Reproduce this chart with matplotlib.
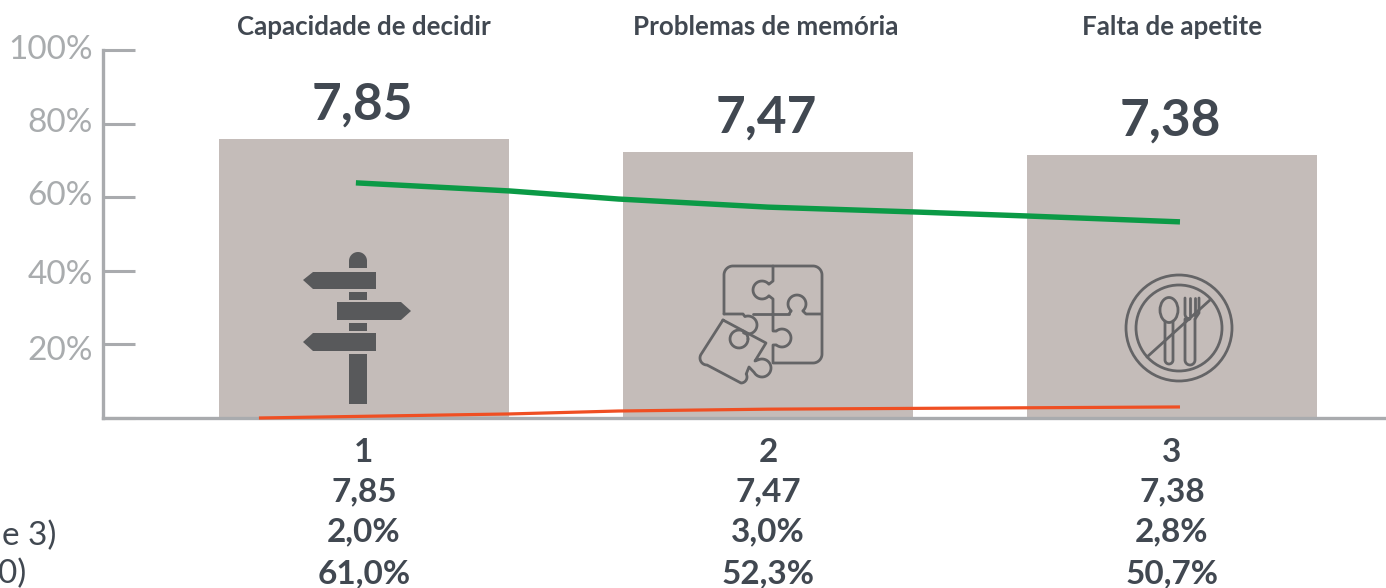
import matplotlib
matplotlib.use('Agg')
import matplotlib.pyplot as plt
from matplotlib.patches import Polygon, Rectangle, Circle, Ellipse
from matplotlib.transforms import blended_transform_factory
import numpy as np

categories = ['Capacidade de decidir', 'Problemas de memória', 'Falta de apetite']
positions = [1, 2, 3]
bar_values = [75.8, 72.3, 71.5]
bar_labels = ['7,85', '7,47', '7,38']

green_x = [0.98, 1.36, 1.63, 2.0, 2.36, 2.64, 3.02]
green_y = [63.9, 61.7, 59.5, 57.3, 56.0, 54.9, 53.3]
red_x = [0.74, 1.36, 1.63, 2.0, 3.02]
red_y = [0.0, 1.1, 1.9, 2.4, 3.0]

y_ticks = [0, 20, 40, 60, 80, 100]
y_labels = ['20%', '40%', '60%', '80%', '100%']

rank_row = ['1', '2', '3']
mean_row = ['7,85', '7,47', '7,38']
low_row = ['2,0%', '3,0%', '2,8%']
high_row = ['61,0%', '52,3%', '50,7%']

W, H = 1386, 588
TEXT = '#414851'
AXIS = '#a9abae'
BAR = '#c4bcb9'
ICON = '#58595b'
ICON2 = '#646466'
FONT = 'Lato'

plt.rcParams['font.family'] = [FONT, 'DejaVu Sans']

fig = plt.figure(figsize=(W / 100, H / 100), dpi=100)
ax = fig.add_axes([103 / W, 1 - 418 / H, (W - 103) / W, 368 / H])
ax.set_xlim(0.354, 3.53)
ax.set_ylim(0, 100)

ax.bar(positions, bar_values, width=0.718, color=BAR, zorder=1)
ax.plot(green_x, green_y, color='#0b9a46', lw=3.9, solid_capstyle='butt', zorder=3)
ax.plot(red_x, red_y, color='#ef4f23', lw=2.3, solid_capstyle='butt', zorder=4, clip_on=False)

for x, v, s in zip(positions, bar_values, bar_labels):
    ax.annotate(s, (x, v), xytext=(-1, 7.5), textcoords='offset points', ha='center', va='bottom',
                fontsize=37, fontweight='bold', color=TEXT)

ax.set_xticks([])
ax.set_yticks(y_ticks)
ax.set_yticklabels([])
ax.tick_params(axis='y', direction='in', length=23, width=2.2, color=AXIS)
for side in ['top', 'right']:
    ax.spines[side].set_visible(False)
for side in ['left', 'bottom']:
    ax.spines[side].set_color(AXIS)
    ax.spines[side].set_linewidth(2.4)

# overlay in reference pixels for the icons and the table under the chart
px = fig.add_axes([0, 0, 1, 1], facecolor='none')
px.set_xlim(0, W)
px.set_ylim(H, 0)
px.axis('off')
trans = blended_transform_factory(ax.transData, px.transData)

# tick labels sit a little off their ticks in the reference
for y, s in zip([351, 275, 196, 123, 50], y_labels):
    px.text(93, y, s, ha='right', va='center', fontsize=24, color='#a9acae')

for x, s in zip([1.0, 1.995, 3.0], categories):
    px.text(x, 27, s, transform=trans, ha='center', va='center', fontsize=18.6,
            fontweight='bold', color=TEXT)

rows = [(452, rank_row), (492, mean_row), (532, low_row), (574, high_row)]
for y, row in rows:
    for x, s in zip(positions, row):
        px.text(x, y, s, transform=trans, ha='center', va='center', fontsize=24,
                fontweight='bold', color=TEXT)

px.text(56, 536, 'e 3)', ha='right', va='center', fontsize=24, color=TEXT)
px.text(26, 574, '0)', ha='right', va='center', fontsize=24, color=TEXT)


def arc(cx, cy, r, a0, a1):
    t = np.radians(np.linspace(a0, a1, 30))
    return np.column_stack([cx + r * np.cos(t), cy + r * np.sin(t)])


def stroke(pts, lw=2.0, color=ICON2):
    pts = np.asarray(pts)
    px.plot(pts[:, 0], pts[:, 1], color=color, lw=lw, solid_capstyle='round', solid_joinstyle='round')


# signpost
px.add_patch(Polygon(np.vstack([arc(358, 261, 9, 180, 360), [[367, 268], [349, 268]]]), color=ICON, lw=0))
px.add_patch(Rectangle((349, 292), 18, 8, color=ICON, lw=0))
px.add_patch(Rectangle((349, 323), 18, 8, color=ICON, lw=0))
px.add_patch(Rectangle((349, 354), 18, 50, color=ICON, lw=0))
px.add_patch(Polygon([[303, 280], [313, 272], [376, 272], [376, 289], [313, 289]], color=ICON, lw=0))
px.add_patch(Polygon([[337, 302], [401, 302], [411, 311], [401, 320], [337, 320]], color=ICON, lw=0))
px.add_patch(Polygon([[303, 342], [313, 333], [376, 333], [376, 351], [313, 351]], color=ICON, lw=0))

# puzzle
stroke(np.vstack([[[724, 314]], arc(733, 275, 9, 180, 270), arc(813, 275, 9, 270, 360),
                  arc(813, 354, 9, 0, 90), [[773, 363], [773, 345]],
                  arc(782, 338, 9, 130, -130), [[773, 331], [773, 314]]]))
stroke(np.vstack([[[724, 314], [743, 314]], arc(748, 325, 9, -110, 120)]))
stroke([[753, 314], [789, 314]])
stroke(np.vstack([[[789, 314]], arc(797, 304, 9, 130, 410), [[806, 314], [821, 314]]]))
stroke(np.vstack([[[773, 266], [773, 281]], arc(762, 290, 9, -40, -320), [[773, 299], [773, 314]]]))
# rotated piece
stroke(np.vstack([[[723, 320], [766, 343], [755, 361]], arc(762, 368, 9, -110, 150),
                  [[749, 367]], arc(741, 377, 6, -30, 90), arc(707, 358, 7, 90, 210), [[723, 320]]]))
stroke(arc(739, 339, 9, 0, 360))

# no food
px.add_patch(Circle((1179, 328), 53, fill=False, ec=ICON2, lw=2.0))
px.add_patch(Circle((1179, 328), 43, fill=False, ec=ICON2, lw=2.0))
stroke([[1147, 357], [1210, 300]])
px.add_patch(Ellipse((1169, 310), 18, 25, fill=False, ec=ICON2, lw=2.0))
stroke([[1165, 321], [1165, 360]] + arc(1169, 360, 4, 180, 0).tolist() + [[1173, 321]])
stroke([[1185, 298], [1185, 314]] + arc(1190, 314, 5, 180, 90).tolist() + [[1185, 319], [1185, 360]]
       + arc(1190, 360, 5, 180, 0).tolist() + [[1195, 319]])
stroke([[1190, 298], [1190, 316]])
stroke([[1195, 298], [1195, 316]])
stroke([[1199, 298], [1199, 313], [1195, 319]])

fig.savefig('out.png', dpi=100)
